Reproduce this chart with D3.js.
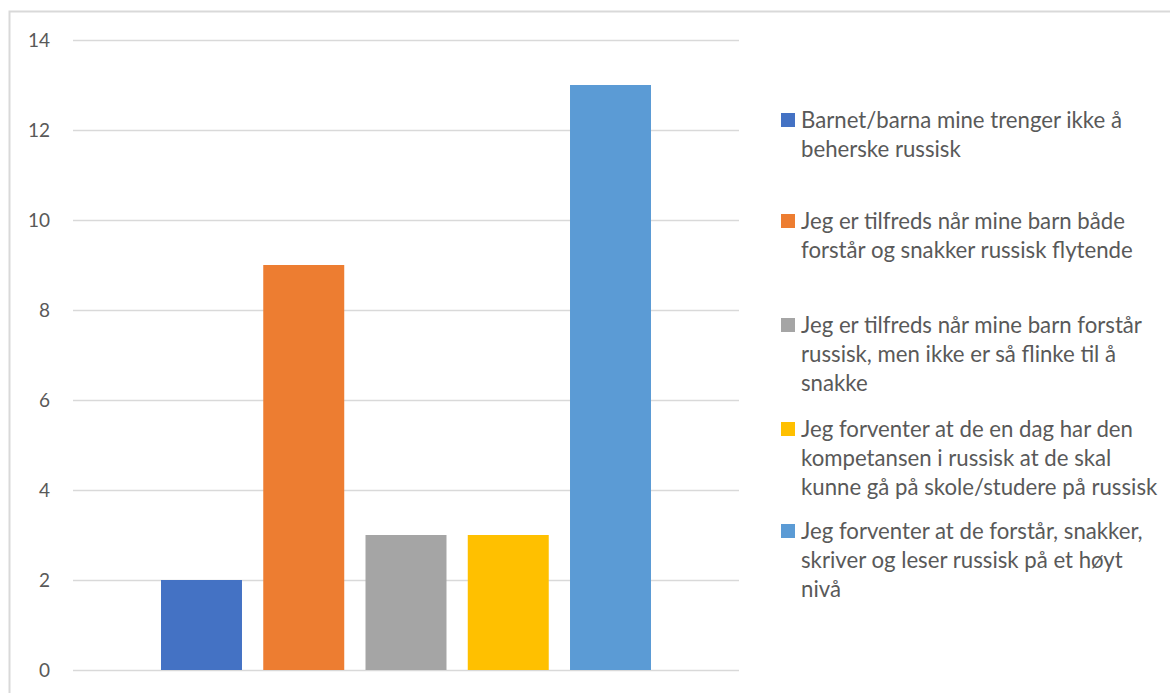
<!DOCTYPE html>
<html>
<head>
<meta charset="utf-8">
<script src="https://cdn.jsdelivr.net/npm/d3@7"></script>
<style>
  body { margin: 0; background: #fff; }
  svg { display: block; }
  text { font-family: Lato, "Open Sans", sans-serif; fill: #595959; }
</style>
</head>
<body>
<svg width="1170" height="693"></svg>
<script>
// series names (legend, already wrapped like in the original)
const seriesLabels = [
  ["Barnet/barna mine trenger ikke å", "beherske russisk"],
  ["Jeg er tilfreds når mine barn både", "forstår og snakker russisk flytende"],
  ["Jeg er tilfreds når mine barn forstår", "russisk, men ikke er så flinke til å", "snakke"],
  ["Jeg forventer at de en dag har den", "kompetansen i russisk at de skal", "kunne gå på skole/studere på russisk"],
  ["Jeg forventer at de forstår, snakker,", "skriver og leser russisk på et høyt", "nivå"]
];
const seriesValues = [2, 9, 3, 3, 13];
const seriesColors = ["#4472C4", "#ED7D31", "#A5A5A5", "#FFC000", "#5B9BD5"];
const yTicks = [0, 2, 4, 6, 8, 10, 12, 14];

const svg = d3.select("svg");

// outer chart border
svg.append("rect")
  .attr("x", 9.5).attr("y", 11.5)
  .attr("width", 1200).attr("height", 800)
  .attr("fill", "none")
  .attr("stroke", "#d9d9d9")
  .attr("stroke-width", 2);

const plot = { left: 73, right: 739, top: 40, bottom: 670 };

const y = d3.scaleLinear().domain([0, 14]).range([plot.bottom, plot.top]);

const x = d3.scaleBand()
  .domain(d3.range(seriesValues.length))
  .range([161, 651])
  .paddingInner(0.208)
  .paddingOuter(0);

// gridlines + labels
const yAxis = d3.axisLeft(y)
  .tickValues(yTicks)
  .tickSize(-(plot.right - plot.left))
  .tickPadding(23);

const ga = svg.append("g")
  .attr("transform", `translate(${plot.left},0)`)
  .call(yAxis);
ga.select(".domain").remove();
ga.selectAll(".tick line").attr("stroke", "#d9d9d9").attr("stroke-width", 1.5);
ga.selectAll(".tick text")
  .attr("fill", "#595959")
  .style("font-size", "19px")
  .style("font-family", "Lato, 'Open Sans', sans-serif");

// bars
svg.append("g")
  .selectAll("rect")
  .data(seriesValues)
  .enter().append("rect")
  .attr("x", (d, i) => x(i))
  .attr("y", d => y(d))
  .attr("width", x.bandwidth())
  .attr("height", d => y(0) - y(d))
  .attr("fill", (d, i) => seriesColors[i]);

// legend
const legendTops = [128, 229, 333, 437, 539]; // first-line baselines
const lineH = 29;
const lg = svg.append("g");
seriesLabels.forEach((lines, i) => {
  lg.append("rect")
    .attr("x", 781).attr("y", legendTops[i] - 15)
    .attr("width", 14).attr("height", 14)
    .attr("fill", seriesColors[i]);
  const t = lg.append("text")
    .attr("x", 801).attr("y", legendTops[i])
    .style("font-size", "22.2px");
  lines.forEach((ln, j) => {
    t.append("tspan").attr("x", 801).attr("dy", j === 0 ? 0 : lineH).text(ln);
  });
});
</script>
</body>
</html>
